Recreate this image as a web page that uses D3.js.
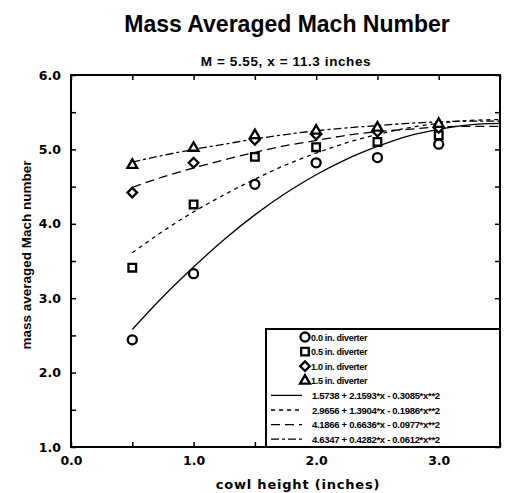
<!DOCTYPE html>
<html><head><meta charset="utf-8">
<script src="https://cdn.jsdelivr.net/npm/d3@7"></script>
<style>body{margin:0;background:#fff}svg{display:block}text{font-family:"Liberation Sans",Arial,sans-serif;font-weight:bold;fill:#000}</style>
</head><body>
<script>
const xTicks = [0, 0.5, 1, 1.5, 2, 2.5, 3, 3.5];
const xLabels = ["0.0", "", "1.0", "", "2.0", "", "3.0", ""];
const yTicks = [1, 1.5, 2, 2.5, 3, 3.5, 4, 4.5, 5, 5.5, 6];
const yLabels = ["1.0", "", "2.0", "", "3.0", "", "4.0", "", "5.0", "", "6.0"];
const cowl = [0.5, 1.0, 1.5, 2.0, 2.5, 3.0];
const div00 = [2.44, 3.33, 4.53, 4.82, 4.89, 5.07];
const div05 = [3.41, 4.26, 4.90, 5.03, 5.10, 5.19];
const div10 = [4.42, 4.82, 5.13, 5.20, 5.24, 5.29];
const div15 = [4.79, 5.02, 5.19, 5.25, 5.29, 5.34];
const curveX = [0.5, 0.75, 1.0, 1.25, 1.5, 1.75, 2.0, 2.25, 2.5, 2.75, 3.0, 3.25, 3.5];
const fit00 = [2.58, 3.02, 3.42, 3.79, 4.12, 4.41, 4.66, 4.87, 5.04, 5.18, 5.27, 5.33, 5.35];
const fit05 = [3.61, 3.90, 4.16, 4.39, 4.60, 4.79, 4.95, 5.09, 5.20, 5.29, 5.35, 5.39, 5.40];
const fit10 = [4.49, 4.63, 4.75, 4.86, 4.96, 5.05, 5.12, 5.19, 5.24, 5.27, 5.30, 5.31, 5.31];
const fit15 = [4.83, 4.92, 5.00, 5.07, 5.14, 5.20, 5.25, 5.29, 5.32, 5.35, 5.37, 5.38, 5.38];
const seriesNames = ["0.0 in. diverter", "0.5 in. diverter", "1.0 in. diverter", "1.5 in. diverter"];
const fitNames = ["1.5738 + 2.1593*x - 0.3085*x**2", "2.9656 + 1.3904*x - 0.1986*x**2",
                  "4.1866 + 0.6636*x - 0.0977*x**2", "4.6347 + 0.4282*x - 0.0612*x**2"];

(function () {
const W = 509, H = 493;
const m = {l: 71, r: 500, t: 75, b: 447};
const svg = d3.select("body").append("svg").attr("width", W).attr("height", H);
const x = d3.scaleLinear().domain([0, 3.5]).range([m.l, m.r]);
const y = d3.scaleLinear().domain([1, 6]).range([m.b, m.t]);
const wide = "'DejaVu Sans',Arial,sans-serif";

svg.append("text").attr("x", 287).attr("y", 32).attr("text-anchor", "middle")
  .style("font-size", "23px").text("Mass Averaged Mach Number");
svg.append("text").attr("x", 286).attr("y", 66).attr("text-anchor", "middle")
  .style("font-size", "13.5px").style("letter-spacing", "0.6px").text("M = 5.55, x = 11.3 inches");

const dashes = [null, "4,4", "9,5", "8,3,3,3"];
const fits = [fit00, fit05, fit10, fit15];
const line = d3.line().x((d, i) => x(curveX[i])).y(d => y(d)).curve(d3.curveMonotoneX);
svg.append("clipPath").attr("id", "c").append("rect")
  .attr("x", m.l).attr("y", m.t).attr("width", m.r - m.l).attr("height", m.b - m.t);
fits.forEach((f, k) => {
  svg.append("path").attr("d", line(f)).attr("fill", "none").attr("stroke", "#000")
    .attr("stroke-width", 1.3).attr("stroke-dasharray", dashes[k]).attr("clip-path", "url(#c)");
});

const shapes = [d3.symbolCircle, d3.symbolSquare, d3.symbolSquare, d3.symbolTriangle];
const sizes = [64, 58, 46, 42];
const rot = [0, 0, 45, 0];
const data = [div00, div05, div10, div15];
data.forEach((s, k) => {
  svg.append("g").selectAll("path").data(s).join("path")
    .attr("transform", (d, i) => `translate(${x(cowl[i])},${y(d)}) rotate(${rot[k]})`)
    .attr("d", d3.symbol().type(shapes[k]).size(sizes[k]))
    .attr("fill", "#fff").attr("stroke", "#000").attr("stroke-width", 2.3);
});

// axes (inward ticks)
const ax = svg.append("g");
const aBottom = d3.axisBottom(x).tickValues(xTicks).tickSize(-5).tickFormat((d, i) => xLabels[i]).tickPadding(9);
const aTop = d3.axisTop(x).tickValues(xTicks).tickSize(-5).tickFormat("");
const aLeft = d3.axisLeft(y).tickValues(yTicks).tickSize(-5).tickFormat((d, i) => yLabels[i]).tickPadding(10);
const aRight = d3.axisRight(y).tickValues(yTicks).tickSize(-5).tickFormat("");
[[aBottom, `translate(0,${m.b})`], [aTop, `translate(0,${m.t})`], [aLeft, `translate(${m.l},0)`], [aRight, `translate(${m.r},0)`]]
  .forEach(([a, t]) => {
    const g = ax.append("g").attr("transform", t).call(a);
    g.select(".domain").remove();
    g.selectAll("line").attr("stroke", "#000").attr("stroke-width", 1.5);
    g.selectAll("text").style("font-size", "12.5px").style("font-family", wide).style("font-weight", "bold");
  });
svg.append("rect").attr("x", m.l).attr("y", m.t).attr("width", m.r - m.l).attr("height", m.b - m.t)
  .attr("fill", "none").attr("stroke", "#000").attr("stroke-width", 2);

svg.append("text").attr("x", 298).attr("y", 489).attr("text-anchor", "middle")
  .style("font-size", "13px").style("font-family", wide).style("letter-spacing", "0.8px").text("cowl height (inches)");
svg.append("text").attr("transform", "translate(31,255) rotate(-90)").attr("text-anchor", "middle")
  .style("font-size", "13.5px").text("mass averaged Mach number");

// legend
const lg = svg.append("g");
lg.append("rect").attr("x", 266).attr("y", 329).attr("width", 234).attr("height", 118)
  .attr("fill", "#fff").attr("stroke", "#000").attr("stroke-width", 2);
const rowY = i => 337 + i * 14.6;
seriesNames.forEach((n, k) => {
  lg.append("path").attr("transform", `translate(305,${rowY(k)}) rotate(${rot[k]})`)
    .attr("d", d3.symbol().type(shapes[k]).size(sizes[k])).attr("fill", "#fff")
    .attr("stroke", "#000").attr("stroke-width", 2.3);
  lg.append("text").attr("x", 311).attr("y", rowY(k) + 3.5).style("font-size", "9px")
    .style("letter-spacing", "-0.3px").text(n);
});
fitNames.forEach((n, k) => {
  const yy = rowY(k + 4);
  lg.append("line").attr("x1", 271).attr("x2", 302).attr("y1", yy).attr("y2", yy)
    .attr("stroke", "#000").attr("stroke-width", 1.3).attr("stroke-dasharray", dashes[k]);
  lg.append("text").attr("x", 312).attr("y", yy + 3.5).style("font-size", "9.5px")
    .style("letter-spacing", "-0.3px").text(n);
});
})();
</script>
</body></html>
